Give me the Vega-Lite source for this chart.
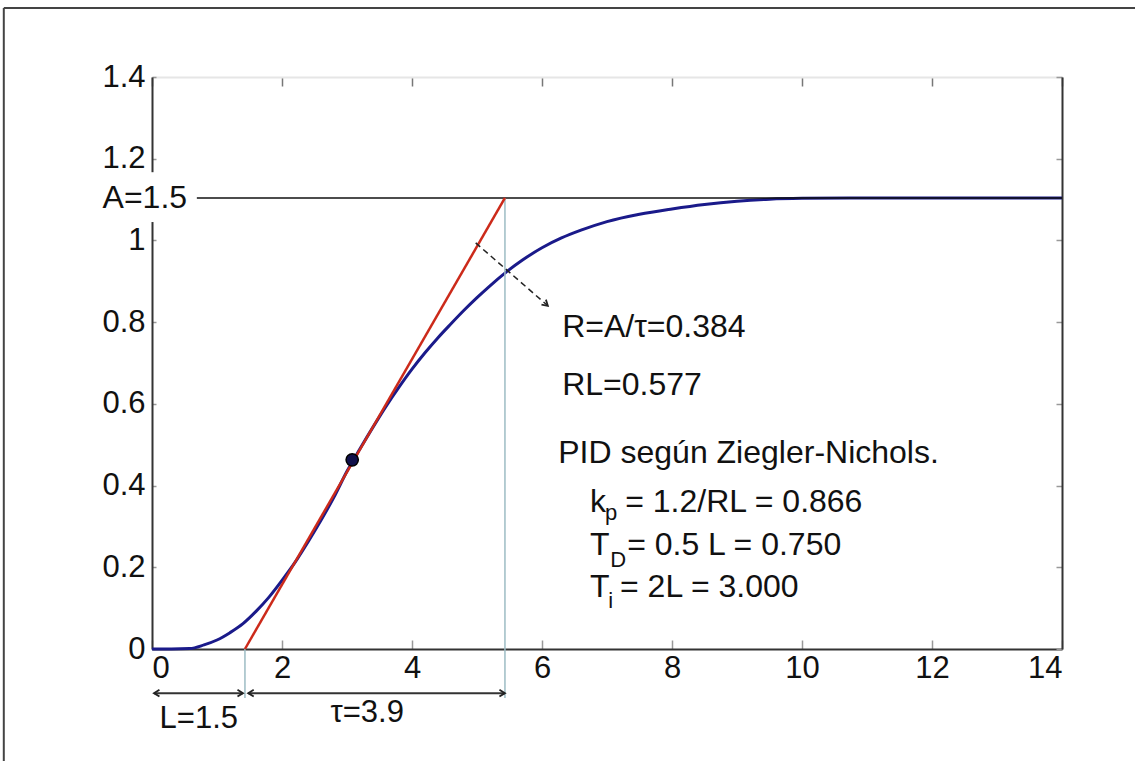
{
  "$schema": "https://vega.github.io/schema/vega-lite/v6.json",
  "width": 910,
  "height": 572,
  "autosize": "none",
  "padding": {"left": 152, "top": 77, "right": 73, "bottom": 112},
  "background": "white",
  "config": {
    "view": {"stroke": null},
    "font": "Liberation Sans",
    "axis": {
      "grid": false,
      "labelFont": "Liberation Sans",
      "labelFontSize": 31,
      "labelColor": "#111111",
      "domainColor": "#333333",
      "domainWidth": 2,
      "tickColor": "#999999",
      "tickWidth": 1.5,
      "title": null
    }
  },
  "datasets": {
    "step": [
      {"t": 0, "y": 0}, {"t": 0.3, "y": 0}, {"t": 0.58, "y": 0.001}, {"t": 0.8, "y": 0.01},
      {"t": 1.0, "y": 0.022}, {"t": 1.2, "y": 0.04}, {"t": 1.4, "y": 0.062}, {"t": 1.6, "y": 0.092},
      {"t": 1.8, "y": 0.127}, {"t": 2.0, "y": 0.168}, {"t": 2.2, "y": 0.212}, {"t": 2.4, "y": 0.262},
      {"t": 2.6, "y": 0.315}, {"t": 2.8, "y": 0.372}, {"t": 3.0, "y": 0.435}, {"t": 3.2, "y": 0.49},
      {"t": 3.4, "y": 0.543}, {"t": 3.6, "y": 0.594}, {"t": 3.8, "y": 0.641}, {"t": 4.0, "y": 0.685},
      {"t": 4.2, "y": 0.725}, {"t": 4.4, "y": 0.762}, {"t": 4.6, "y": 0.796}, {"t": 4.8, "y": 0.829},
      {"t": 5.0, "y": 0.86}, {"t": 5.2, "y": 0.889}, {"t": 5.43, "y": 0.92}, {"t": 5.7, "y": 0.952},
      {"t": 6.0, "y": 0.982}, {"t": 6.3, "y": 1.006}, {"t": 6.6, "y": 1.025}, {"t": 7.0, "y": 1.046},
      {"t": 7.5, "y": 1.064}, {"t": 8.0, "y": 1.077}, {"t": 8.5, "y": 1.088}, {"t": 9.0, "y": 1.096},
      {"t": 9.5, "y": 1.101}, {"t": 10, "y": 1.103}, {"t": 11, "y": 1.104}, {"t": 12, "y": 1.104},
      {"t": 14, "y": 1.104}
    ],
    "tangent": [{"t": 1.43, "y": 0}, {"t": 5.43, "y": 1.104}],
    "vlines": [{"t": 1.43, "y": 0, "y2": -0.12}, {"t": 5.43, "y": 1.104, "y2": -0.12}],
    "aline": [{"t": 0.69, "t2": 14, "y": 1.104}],
    "spans": [{"t": 0.03, "t2": 1.4, "y": -0.108}, {"t": 1.48, "t2": 5.43, "y": -0.108}],
    "heads": [
      {"t": 0.03, "y": -0.108, "dir": "left"}, {"t": 1.4, "y": -0.108, "dir": "right"},
      {"t": 1.48, "y": -0.108, "dir": "left"}, {"t": 5.43, "y": -0.108, "dir": "right"},
      {"t": 6.09, "y": 0.84, "dir": "diag"}
    ],
    "pointer": [{"t": 4.98, "y": 0.994, "t2": 6.09, "y2": 0.84}],
    "inflection": [{"t": 3.08, "y": 0.463}],
    "cover": [{"t": -0.1, "t2": 0.1, "y": 1.045, "y2": 1.167}],
    "frame": [
      {"t": -2.28, "t2": 15.3, "y": 1.569, "y2": 1.569},
      {"t": -2.28, "t2": -2.28, "y": 1.569, "y2": -0.3}
    ],
    "notes": [
      {"t": 6.31, "y": 0.764, "text": "R=A/τ=0.384", "group": "note"},
      {"t": 6.31, "y": 0.622, "text": "RL=0.577", "group": "note"},
      {"t": 6.25, "y": 0.455, "text": "PID según Ziegler-Nichols.", "group": "note"},
      {"t": 6.74, "y": 0.335, "text": "k", "group": "note"},
      {"t": 6.97, "y": 0.316, "text": "p", "group": "sub"},
      {"t": 7.28, "y": 0.335, "text": "= 1.2/RL = 0.866", "group": "note"},
      {"t": 6.74, "y": 0.23, "text": "T", "group": "note"},
      {"t": 7.05, "y": 0.201, "text": "D", "group": "sub"},
      {"t": 7.31, "y": 0.23, "text": "= 0.5 L = 0.750", "group": "note"},
      {"t": 6.74, "y": 0.127, "text": "T", "group": "note"},
      {"t": 7.02, "y": 0.1, "text": "i", "group": "sub"},
      {"t": 7.2, "y": 0.127, "text": "= 2L = 3.000", "group": "note"},
      {"t": 0.54, "y": 1.079, "text": "A=1.5", "group": "level"},
      {"t": 0.72, "y": -0.193, "text": "L=1.5", "group": "span"},
      {"t": 3.31, "y": -0.179, "text": "τ=3.9", "group": "span"}
    ]
  },
  "resolve": {"axis": {"x": "independent", "y": "independent"}},
  "layer": [
    {
      "data": {"name": "step"},
      "mark": {"type": "line", "color": "#1a1a8a", "strokeWidth": 3, "interpolate": "monotone"},
      "encoding": {
        "x": {"field": "t", "type": "quantitative", "scale": {"domain": [0, 14], "nice": false, "zero": false},
          "axis": {"orient": "bottom", "values": [0, 2, 4, 6, 8, 10, 12, 14], "format": "d", "tickSize": -9, "labelPadding": 13, "labelBaseline": "top"}},
        "y": {"field": "y", "type": "quantitative", "scale": {"domain": [0, 1.4], "nice": false, "zero": false},
          "axis": {"orient": "left", "values": [0, 0.2, 0.4, 0.6, 0.8, 1, 1.2, 1.4], "format": "~g", "tickSize": -4, "labelPadding": 11}}
      }
    },
    {
      "data": {"name": "aline"},
      "mark": {"type": "rule", "color": "#111111", "strokeWidth": 1.5},
      "encoding": {
        "x": {"field": "t", "type": "quantitative", "scale": {"domain": [0, 14], "nice": false, "zero": false},
          "axis": {"orient": "top", "values": [0, 2, 4, 6, 8, 10, 12, 14], "labels": false, "tickSize": -9, "tickColor": "#777777", "domainColor": "#e6e6e6"}},
        "x2": {"field": "t2"},
        "y": {"field": "y", "type": "quantitative", "scale": {"domain": [0, 1.4], "nice": false, "zero": false},
          "axis": {"orient": "right", "values": [0, 0.2, 0.4, 0.6, 0.8, 1, 1.2, 1.4], "labels": false, "tickSize": -6}}
      }
    },
    {
      "data": {"name": "frame"},
      "mark": {"type": "rule", "color": "#444444", "strokeWidth": 2},
      "encoding": {
        "x": {"field": "t", "type": "quantitative", "scale": {"domain": [0, 14], "nice": false, "zero": false}, "axis": null},
        "x2": {"field": "t2"},
        "y": {"field": "y", "type": "quantitative", "scale": {"domain": [0, 1.4], "nice": false, "zero": false}, "axis": null},
        "y2": {"field": "y2"}
      }
    },
    {
      "data": {"name": "cover"},
      "mark": {"type": "rect", "color": "white"},
      "encoding": {
        "x": {"field": "t", "type": "quantitative", "scale": {"domain": [0, 14], "nice": false, "zero": false}, "axis": null},
        "x2": {"field": "t2"},
        "y": {"field": "y", "type": "quantitative", "scale": {"domain": [0, 1.4], "nice": false, "zero": false}, "axis": null},
        "y2": {"field": "y2"}
      }
    },
    {
      "data": {"name": "vlines"},
      "mark": {"type": "rule", "color": "#9dbcc4", "strokeWidth": 1.5},
      "encoding": {
        "x": {"field": "t", "type": "quantitative", "scale": {"domain": [0, 14], "nice": false, "zero": false}, "axis": null},
        "y": {"field": "y", "type": "quantitative", "scale": {"domain": [0, 1.4], "nice": false, "zero": false}, "axis": null},
        "y2": {"field": "y2"}
      }
    },
    {
      "data": {"name": "tangent"},
      "mark": {"type": "line", "color": "#cc2a1a", "strokeWidth": 2.5},
      "encoding": {
        "x": {"field": "t", "type": "quantitative", "scale": {"domain": [0, 14], "nice": false, "zero": false}, "axis": null},
        "y": {"field": "y", "type": "quantitative", "scale": {"domain": [0, 1.4], "nice": false, "zero": false}, "axis": null}
      }
    },
    {
      "data": {"name": "spans"},
      "mark": {"type": "rule", "color": "#333333", "strokeWidth": 2},
      "encoding": {
        "x": {"field": "t", "type": "quantitative", "scale": {"domain": [0, 14], "nice": false, "zero": false}, "axis": null},
        "x2": {"field": "t2"},
        "y": {"field": "y", "type": "quantitative", "scale": {"domain": [0, 1.4], "nice": false, "zero": false}, "axis": null}
      }
    },
    {
      "data": {"name": "pointer"},
      "mark": {"type": "rule", "color": "#222222", "strokeWidth": 1.5, "strokeDash": [6, 4]},
      "encoding": {
        "x": {"field": "t", "type": "quantitative", "scale": {"domain": [0, 14], "nice": false, "zero": false}, "axis": null},
        "x2": {"field": "t2"},
        "y": {"field": "y", "type": "quantitative", "scale": {"domain": [0, 1.4], "nice": false, "zero": false}, "axis": null},
        "y2": {"field": "y2"}
      }
    },
    {
      "data": {"name": "heads"},
      "mark": {"type": "point", "filled": false, "stroke": "#222222", "strokeWidth": 1.8, "size": 150, "opacity": 1},
      "encoding": {
        "x": {"field": "t", "type": "quantitative", "scale": {"domain": [0, 14], "nice": false, "zero": false}, "axis": null},
        "y": {"field": "y", "type": "quantitative", "scale": {"domain": [0, 1.4], "nice": false, "zero": false}, "axis": null},
        "shape": {"field": "dir", "type": "nominal", "legend": null,
          "scale": {"domain": ["left", "right", "diag"], "range": ["M0.9,-0.55L0,0L0.9,0.55", "M-0.9,-0.55L0,0L-0.9,0.55", "M-0.319,-1.005L0,0L-1.041,-0.175"]}}
      }
    },
    {
      "data": {"name": "inflection"},
      "mark": {"type": "point", "filled": true, "color": "#10104a", "stroke": "#000000", "strokeWidth": 1.5, "size": 150, "opacity": 1},
      "encoding": {
        "x": {"field": "t", "type": "quantitative", "scale": {"domain": [0, 14], "nice": false, "zero": false}, "axis": null},
        "y": {"field": "y", "type": "quantitative", "scale": {"domain": [0, 1.4], "nice": false, "zero": false}, "axis": null}
      }
    },
    {
      "data": {"name": "notes"},
      "transform": [{"filter": "datum.group === 'note'"}],
      "mark": {"type": "text", "align": "left", "baseline": "alphabetic", "fontSize": 32, "font": "Liberation Sans", "color": "#111111"},
      "encoding": {
        "x": {"field": "t", "type": "quantitative", "scale": {"domain": [0, 14], "nice": false, "zero": false}, "axis": null},
        "y": {"field": "y", "type": "quantitative", "scale": {"domain": [0, 1.4], "nice": false, "zero": false}, "axis": null},
        "text": {"field": "text"}
      }
    },
    {
      "data": {"name": "notes"},
      "transform": [{"filter": "datum.group === 'sub'"}],
      "mark": {"type": "text", "align": "left", "baseline": "alphabetic", "fontSize": 22, "font": "Liberation Sans", "color": "#111111"},
      "encoding": {
        "x": {"field": "t", "type": "quantitative", "scale": {"domain": [0, 14], "nice": false, "zero": false}, "axis": null},
        "y": {"field": "y", "type": "quantitative", "scale": {"domain": [0, 1.4], "nice": false, "zero": false}, "axis": null},
        "text": {"field": "text"}
      }
    },
    {
      "data": {"name": "notes"},
      "transform": [{"filter": "datum.group === 'level'"}],
      "mark": {"type": "text", "align": "right", "baseline": "alphabetic", "fontSize": 32, "font": "Liberation Sans", "color": "#111111"},
      "encoding": {
        "x": {"field": "t", "type": "quantitative", "scale": {"domain": [0, 14], "nice": false, "zero": false}, "axis": null},
        "y": {"field": "y", "type": "quantitative", "scale": {"domain": [0, 1.4], "nice": false, "zero": false}, "axis": null},
        "text": {"field": "text"}
      }
    },
    {
      "data": {"name": "notes"},
      "transform": [{"filter": "datum.group === 'span'"}],
      "mark": {"type": "text", "align": "center", "baseline": "alphabetic", "fontSize": 31, "font": "Liberation Sans", "color": "#111111"},
      "encoding": {
        "x": {"field": "t", "type": "quantitative", "scale": {"domain": [0, 14], "nice": false, "zero": false}, "axis": null},
        "y": {"field": "y", "type": "quantitative", "scale": {"domain": [0, 1.4], "nice": false, "zero": false}, "axis": null},
        "text": {"field": "text"}
      }
    }
  ]
}
